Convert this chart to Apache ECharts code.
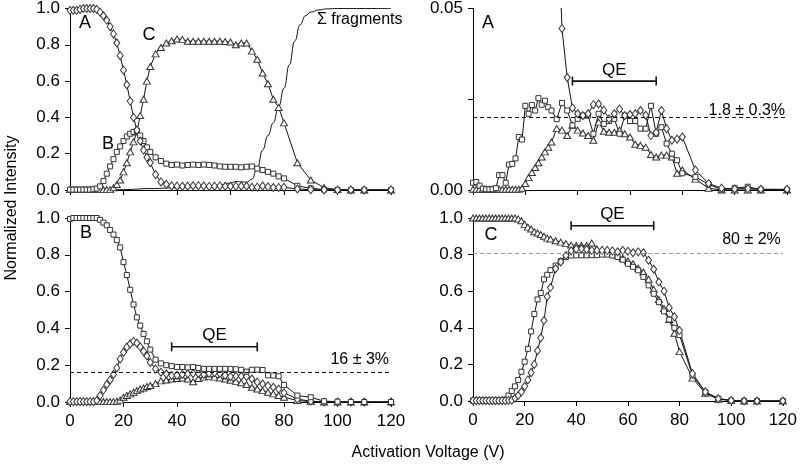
<!DOCTYPE html>
<html><head><meta charset="utf-8">
<script src="https://cdn.jsdelivr.net/npm/echarts@6/dist/echarts.min.js"></script>
<style>html,body{margin:0;padding:0;background:#fff}#c{width:800px;height:466px}</style>
</head><body><div id="c"></div>
<script>
// Activation voltage grid (V)
const V = [0,1.25,2.5,3.75,5,6.25,7.5,8.75,10,11.25,12.5,13.75,15,16.25,17.5,18.75,20,21.25,22.5,23.75,25,26.25,27.5,28.75,30,
  32,34,36,38,40,42,44,46,48,50,52,54,56,58,60,62,64,66,68,70,72,74,76,78,80,
  85,90,95,100,105,110,120];

// Panel A (top-left): A (diamonds), B (squares), C (triangles)
const A_DIAMOND = [0.99,0.99,0.99,0.995,1.0,1.0,1.0,1.0,0.995,0.98,0.96,0.935,0.90,0.86,0.81,0.74,0.66,0.58,0.49,0.40,0.33,0.27,0.22,0.18,0.15,
  0.085,0.0445,0.031,0.0226,0.021,0.0205,0.021,0.0235,0.0237,0.022,0.0196,0.021,0.0223,0.0205,0.0208,0.021,0.0219,0.0206,0.015,0.0158,0.0219,0.0169,0.0137,0.014,0.0146,
  0.0055,0.0018,0.0005,0.0003,0.0004,0.0002,0.0002];
const A_SQUARE = [0.002,0.002,0.002,0.002,0.002,0.002,0.002,0.004,0.008,0.02,0.05,0.09,0.13,0.17,0.21,0.24,0.27,0.295,0.31,0.32,0.325,0.30,0.27,0.235,0.21,
  0.18,0.16,0.145,0.138,0.14,0.135,0.138,0.14,0.138,0.14,0.138,0.135,0.13,0.128,0.128,0.128,0.125,0.128,0.13,0.118,0.11,0.10,0.09,0.075,0.064,
  0.023,0.009,0.002,0,0,0,0];
const A_TRIANGLE = [0.002,0.002,0.002,0.002,0.002,0.002,0.002,0.002,0.002,0.002,0.002,0.002,0.002,0.012,0.03,0.055,0.10,0.15,0.21,0.265,0.32,0.41,0.50,0.60,0.68,
  0.75,0.785,0.81,0.822,0.832,0.83,0.82,0.82,0.82,0.82,0.82,0.82,0.82,0.818,0.815,0.80,0.81,0.81,0.765,0.72,0.645,0.585,0.50,0.455,0.37,
  0.15,0.055,0.013,0.002,0,0,0];
const SIGMA_V = [0,10,20,30,40,50,55,60,62,64,66,68,70,72,74,76,78,80,82,84,86,88,90,93,96,100,110,120];
const SIGMA = [0,0,0.002,0.008,0.012,0.02,0.025,0.038,0.047,0.045,0.043,0.06,0.12,0.22,0.30,0.37,0.46,0.56,0.69,0.82,0.91,0.96,0.98,0.992,0.998,1.0,1.0,1.0];

// Panel A zoom (top-right)
const AZ_DIAMOND = A_DIAMOND;
const AZ_SQUARE = [0.0020,0.0022,0.0012,0.0004,0.0002,0.0002,0.0002,0.0005,0.0041,0.0041,0.0020,0.0070,0.0072,0.0087,0.0146,0.0139,0.0232,0.0210,0.0234,0.0219,0.0253,0.0235,0.0246,0.0228,0.0219,
  0.0195,0.024,0.0219,0.0178,0.0196,0.0205,0.0205,0.0155,0.021,0.0182,0.019,0.0196,0.0155,0.0205,0.019,0.019,0.0169,0.0169,0.0232,0.0155,0.0173,0.0128,0.010,0.0082,0.0046,
  0.0036,0.0016,0.0001,0.0005,0.0009,0.0001,0];
const AZ_TRIANGLE = [0.0002,0.0002,0.0002,0.0002,0.0002,0.0002,0.0002,0.0002,0.0002,0.0002,0.0002,0.0002,0.0002,0.0002,0.0002,0.0005,0.0018,0.0034,0.0048,0.0062,0.0075,0.0091,0.0105,0.0118,0.0132,
  0.0169,0.0165,0.015,0.0178,0.0165,0.0157,0.015,0.0137,0.0187,0.0162,0.0159,0.0159,0.0165,0.0155,0.0146,0.0126,0.0123,0.0118,0.0098,0.0091,0.0096,0.0096,0.0091,0.0046,0.0055,
  0.003,0.0005,0,0,0,0,0];

// Panel B (bottom-left)
const B_SQUARE = [0.995,1,1,1,1,1,1,1,1,0.99,0.975,0.96,0.935,0.91,0.88,0.84,0.76,0.69,0.61,0.53,0.46,0.415,0.37,0.33,0.285,
  0.23,0.21,0.20,0.195,0.19,0.19,0.188,0.19,0.185,0.18,0.18,0.18,0.18,0.18,0.18,0.178,0.175,0.165,0.175,0.176,0.174,0.145,0.144,0.14,0.093,
  0.035,0.026,0.004,0.002,0,0,0];
const B_DIAMOND = [0.002,0.002,0.002,0.002,0.002,0.002,0.002,0.002,0.008,0.035,0.065,0.095,0.12,0.15,0.185,0.234,0.27,0.298,0.316,0.329,0.32,0.30,0.275,0.25,0.215,
  0.18,0.162,0.152,0.145,0.145,0.15,0.152,0.155,0.155,0.15,0.155,0.16,0.155,0.145,0.138,0.14,0.14,0.138,0.125,0.108,0.098,0.088,0.08,0.07,0.05,
  0.016,0.004,0,0,0,0,0];
const B_TRIANGLE = [0.002,0.002,0.002,0.002,0.002,0.002,0.002,0.002,0.002,0.002,0.002,0.002,0.002,0.002,0.004,0.01,0.026,0.035,0.044,0.053,0.062,0.071,0.076,0.084,0.09,
  0.10,0.115,0.12,0.125,0.128,0.13,0.125,0.11,0.128,0.135,0.138,0.135,0.13,0.125,0.118,0.112,0.105,0.095,0.08,0.071,0.062,0.053,0.044,0.035,0.026,
  0.008,0.002,0,0,0,0,0];

// Panel C (bottom-right)
const C_TRIANGLE = [1,1,1,1,1,1,1,1,1,1,1,1,1,1,0.995,0.985,0.965,0.95,0.94,0.925,0.918,0.91,0.90,0.89,0.885,
  0.876,0.868,0.86,0.852,0.85,0.85,0.85,0.863,0.83,0.82,0.812,0.805,0.798,0.78,0.765,0.75,0.725,0.705,0.665,0.61,0.555,0.505,0.445,0.37,0.27,
  0.125,0.042,0.01,0.002,0,0,0];
const C_SQUARE = [0.002,0.002,0.002,0.002,0.002,0.002,0.002,0.002,0.002,0.004,0.008,0.03,0.055,0.08,0.115,0.16,0.215,0.285,0.38,0.475,0.555,0.59,0.665,0.69,0.715,
  0.74,0.765,0.787,0.795,0.796,0.796,0.796,0.797,0.797,0.80,0.80,0.795,0.787,0.772,0.75,0.733,0.714,0.678,0.632,0.586,0.54,0.49,0.445,0.40,0.36,
  0.14,0.049,0.013,0.003,0,0,0];
const C_DIAMOND = [0.002,0.002,0.002,0.002,0.002,0.002,0.002,0.002,0.002,0.002,0.002,0.003,0.005,0.015,0.03,0.05,0.08,0.115,0.155,0.2,0.275,0.345,0.44,0.57,0.62,
  0.723,0.76,0.795,0.82,0.83,0.832,0.828,0.823,0.823,0.823,0.823,0.82,0.815,0.823,0.818,0.81,0.815,0.81,0.769,0.72,0.65,0.60,0.51,0.46,0.385,
  0.15,0.05,0.013,0.003,0,0,0];

// Annotations
const QE_RANGE = [38, 70];
const QE_LEVEL = {tr: 0.030, bl: 0.30, br: 0.958};
const DASH_LEVEL = {tr: 0.018, bl: 0.156, br: 0.805};
const DASH_TEXT = {tr: '1.8 ± 0.3%', bl: '16 ± 3%', br: '80 ± 2%'};

const FONT = 'Liberation Sans, Arial, Helvetica, sans-serif';
const INK = '#000';
function pairs(arr, xs) { xs = xs || V; return xs.map((v, i) => [v, arr[i]]); }

const SYM = {
  diamond: {symbol: 'diamond', size: [6, 8]},
  square: {symbol: 'rect', size: [5, 5]},
  triangle: {symbol: 'triangle', size: [7, 6]}
};
function curve(gi, arr, kind) {
  return {
    type: 'line', xAxisIndex: gi, yAxisIndex: gi, data: pairs(arr),
    symbol: SYM[kind].symbol, symbolSize: SYM[kind].size, showAllSymbol: true,
    lineStyle: {color: '#111', width: 1},
    itemStyle: {color: '#fff', borderColor: '#333', borderWidth: 1},
    emphasis: {disabled: true}, clip: true, silent: true
  };
}
function qe(gi, level, dashLevel, dashColor) {
  return {
    type: 'line', xAxisIndex: gi, yAxisIndex: gi,
    data: QE_RANGE.map(x => [x, level]),
    symbol: 'rect', symbolSize: [1.6, 9], showAllSymbol: true,
    lineStyle: {color: '#111', width: 1.6}, itemStyle: {color: '#111'},
    emphasis: {disabled: true}, silent: true, z: 5,
    markLine: {
      silent: true, symbol: 'none', animation: false,
      lineStyle: {type: [4, 3], color: dashColor, width: 1},
      label: {show: false},
      emphasis: {disabled: true},
      data: [{yAxis: dashLevel}]
    }
  };
}

const grids = [
  {left: 70, top: 7, width: 321, height: 183},
  {left: 473, top: 7, width: 314, height: 183},
  {left: 70, top: 218, width: 321, height: 184},
  {left: 473, top: 218, width: 314, height: 183}
];
const xAxes = grids.map((g, i) => ({
  type: 'value', gridIndex: i, min: 0, max: 120, interval: 20,
  axisLine: {show: true, onZero: false, lineStyle: {color: '#000', width: 1}},
  axisTick: {show: true, length: 5, lineStyle: {color: '#000'}},
  axisLabel: {show: i >= 2, fontSize: 17, fontFamily: FONT, color: INK, margin: 11},
  splitLine: {show: false}
}));
const yAxes = grids.map((g, i) => ({
  type: 'value', gridIndex: i, min: 0, max: i === 1 ? 0.05 : 1, interval: i === 1 ? 0.025 : 0.2,
  axisLine: {show: true, lineStyle: {color: '#000', width: 1}},
  axisTick: {show: true, length: 5, lineStyle: {color: '#000'}},
  axisLabel: {fontSize: 17, fontFamily: FONT, color: INK, margin: 10,
    formatter: v => i === 1 ? (Math.abs(v - 0.025) < 1e-6 ? '' : v.toFixed(2)) : v.toFixed(1)},
  splitLine: {show: false}
}));

const series = [
  {type: 'line', xAxisIndex: 0, yAxisIndex: 0, data: pairs(SIGMA, SIGMA_V), smooth: 0.5, smoothMonotone: 'x',
   showSymbol: false, lineStyle: {color: '#111', width: 1}, silent: true},
  curve(0, A_TRIANGLE, 'triangle'), curve(0, A_SQUARE, 'square'), curve(0, A_DIAMOND, 'diamond'),
  curve(1, AZ_TRIANGLE, 'triangle'), curve(1, AZ_SQUARE, 'square'), curve(1, AZ_DIAMOND, 'diamond'),
  curve(2, B_TRIANGLE, 'triangle'), curve(2, B_DIAMOND, 'diamond'), curve(2, B_SQUARE, 'square'),
  curve(3, C_TRIANGLE, 'triangle'), curve(3, C_SQUARE, 'square'), curve(3, C_DIAMOND, 'diamond'),
  qe(1, QE_LEVEL.tr, DASH_LEVEL.tr, '#111'),
  qe(2, QE_LEVEL.bl, DASH_LEVEL.bl, '#111'),
  qe(3, QE_LEVEL.br, DASH_LEVEL.br, '#999')
];

function txt(text, x, y, align, size, rot) {
  return {type: 'text', x: x, y: y, rotation: rot || 0, silent: true, z: 100,
    style: {text: text, fill: INK, font: (size || 16) + 'px ' + FONT, align: align || 'center', verticalAlign: 'middle'}};
}
const graphics = [
  txt('A', 85, 23, 'center', 18), txt('C', 149, 35, 'center', 18), txt('B', 108, 144, 'center', 18),
  txt('Σ fragments', 317, 20, 'left', 16),
  txt('A', 488, 23, 'center', 18),
  txt('B', 86, 233, 'center', 18),
  txt('C', 491, 235, 'center', 18),
  txt('Activation Voltage (V)', 428, 453, 'center', 16),
  txt('Normalized Intensity', 12, 208, 'center', 16, Math.PI / 2)
];

const chart = echarts.init(document.getElementById('c'), null, {renderer: 'canvas'});
chart.setOption({
  animation: false,
  backgroundColor: '#fff',
  grid: grids, xAxis: xAxes, yAxis: yAxes,
  series: series,
  graphic: graphics
});

// Place QE and dashed-line labels from data coordinates
const panels = [['tr', 1], ['bl', 2], ['br', 3]];
panels.forEach(([k, gi]) => {
  const qp = chart.convertToPixel({gridIndex: gi}, [(QE_RANGE[0] + QE_RANGE[1]) / 2, QE_LEVEL[k]]);
  graphics.push(txt('QE', qp[0], qp[1] - 11, 'center', 17));
  const dp = chart.convertToPixel({gridIndex: gi}, [120, DASH_LEVEL[k]]);
  graphics.push(txt(DASH_TEXT[k], dp[0] - 2, dp[1] - 14, 'right', 16));
});
chart.setOption({graphic: graphics});
</script></body></html>
